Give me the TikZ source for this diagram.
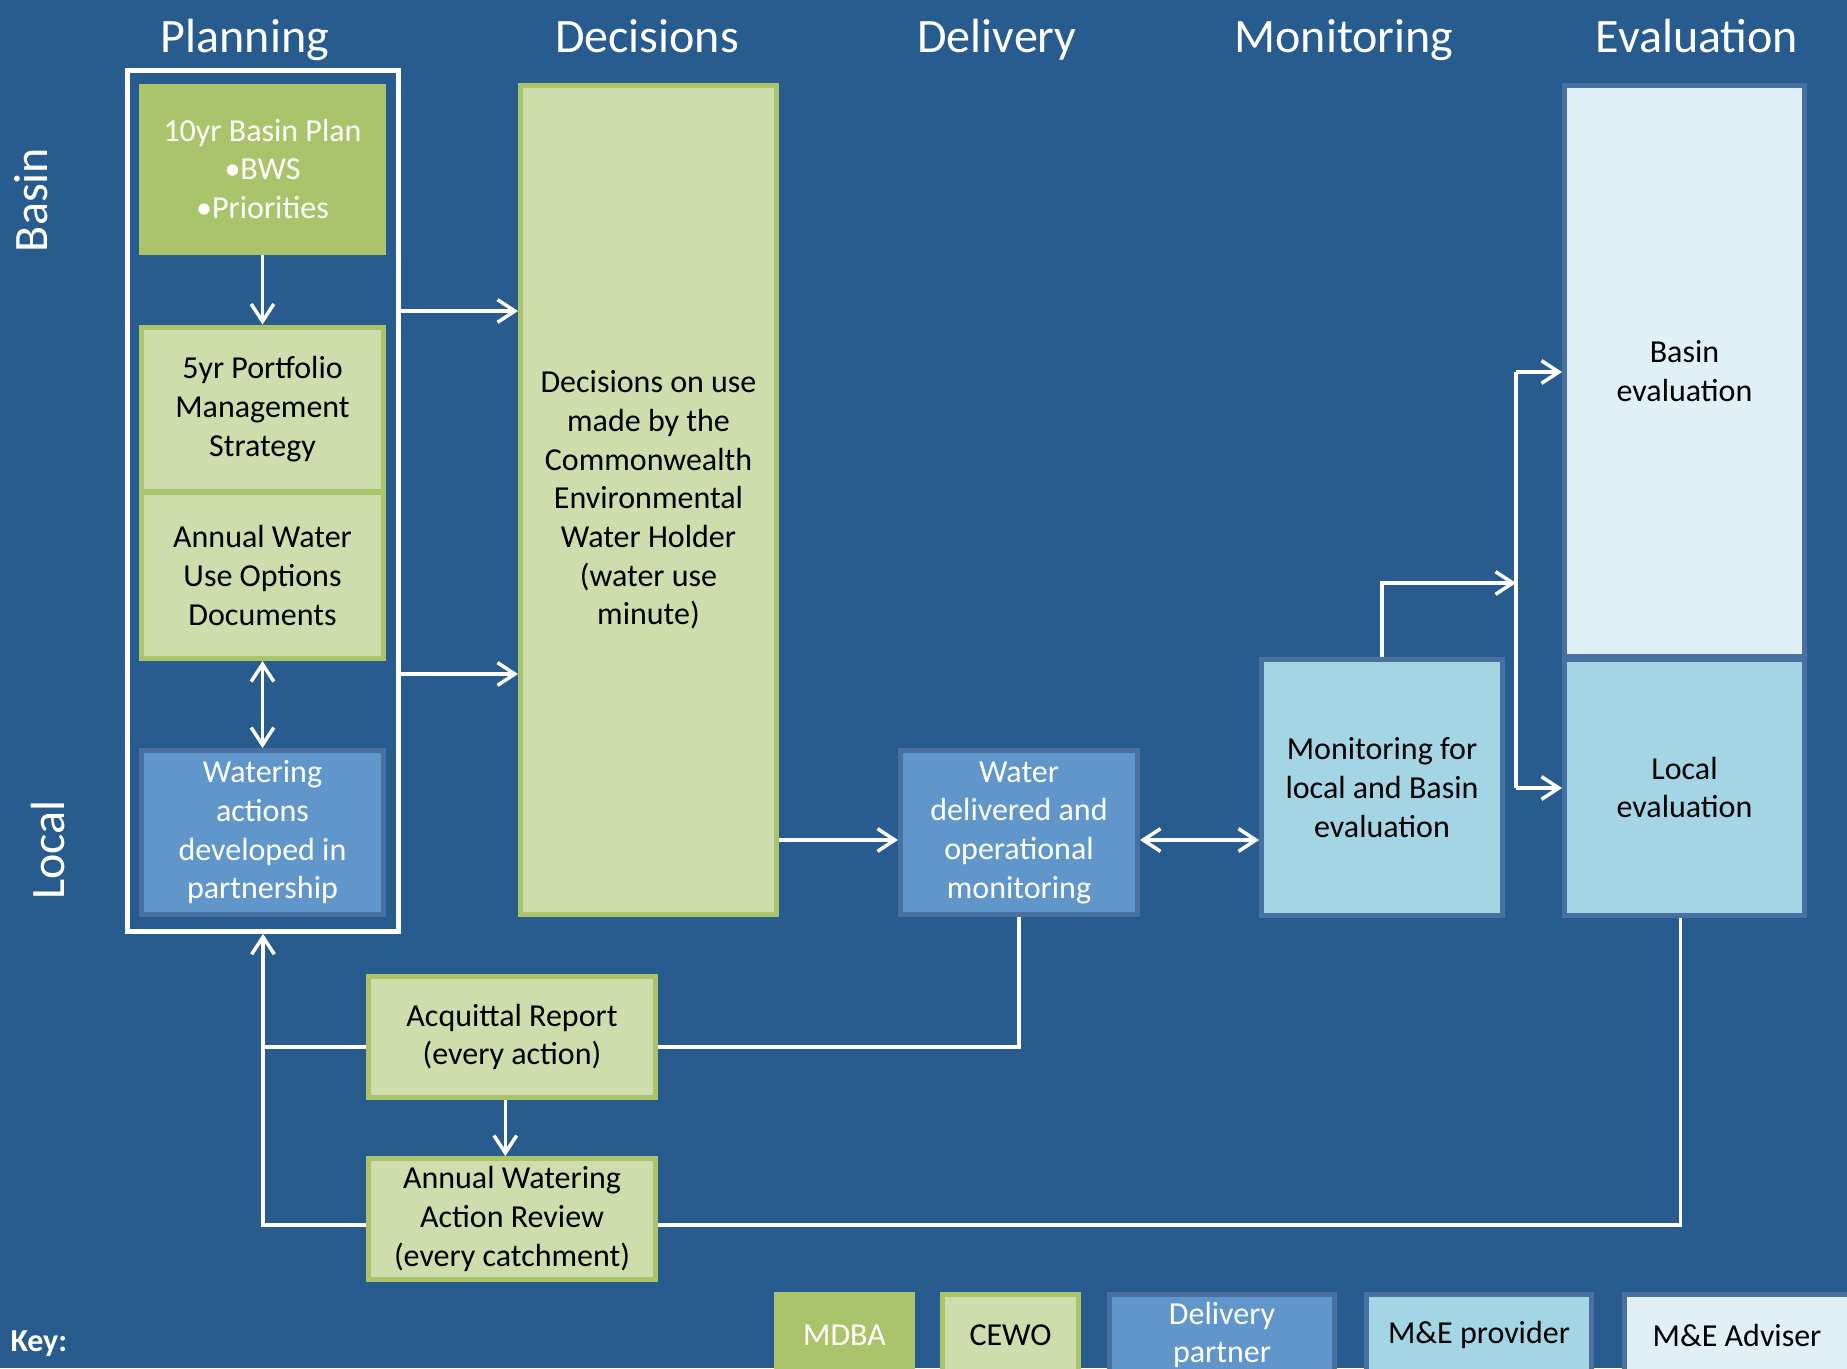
\documentclass[tikz,border=0pt]{standalone}
\usepackage{fontspec}
\setmainfont{Carlito}
\usetikzlibrary{arrows.meta}

\definecolor{bgblue}{RGB}{40,92,143}
\definecolor{mdbagreen}{RGB}{169,196,107}
\definecolor{cewogreen}{RGB}{206,221,171}
\definecolor{partnerblue}{RGB}{96,150,201}
\definecolor{providerblue}{RGB}{163,213,228}
\definecolor{adviserblue}{RGB}{225,239,246}
\definecolor{edgeblue}{RGB}{72,112,160}

\tikzset{every picture/.style={line width=0.75pt}}
\tikzset{
  box/.style={draw, line width=3.75pt, align=center, inner sep=0pt, font=\fontsize{24}{29}\selectfont},
  mdba/.style={box, draw=mdbagreen, fill=mdbagreen, text=white},
  cewo/.style={box, draw=mdbagreen, fill=cewogreen, text=black},
  partner/.style={box, draw=edgeblue, fill=partnerblue, text=white},
  provider/.style={box, draw=edgeblue, fill=providerblue, text=black},
  adviser/.style={box, draw=edgeblue, fill=adviserblue, text=black},
  head/.style={text=white, font=\fontsize{36}{43}\selectfont, anchor=base, inner sep=0pt},
  side/.style={text=white, font=\fontsize{36}{43}\selectfont, rotate=90, inner sep=0pt},
  conn/.style={draw=white, line width=2.6pt},
  arr/.style={conn, -{Straight Barb[length=13pt,width=17pt]}},
  darr/.style={conn, {Straight Barb[length=13pt,width=17pt]}-{Straight Barb[length=13pt,width=17pt]}},
}

\begin{document}
\begin{tikzpicture}[x=0.75pt,y=0.75pt,yscale=-1,xscale=1]
\useasboundingbox (0,0) rectangle (1847,1368);
\clip (0,0) rectangle (1847,1368);
\fill[bgblue] (0,0) rectangle (1847,1368);

% Column heads
\node[head] (hplan) at (245,52) {Planning};
\node[head] (hdec) at (647,52) {Decisions};
\node[head] (hdel) at (997,52) {Delivery};
\node[head] (hmon) at (1344,52) {Monitoring};
\node[head] (heval) at (1697,52) {Evaluation};

% Row labels
\node[side] (rbasin) at (31,200) {Basin};
\node[side] (rlocal) at (48,850) {Local};

% Planning frame
\node[draw=white, line width=3.4pt, minimum width=203.25pt, minimum height=645.75pt, inner sep=0pt] (planbox) at (263,501) {};

% Boxes
\node[mdba, minimum width=181.5pt, minimum height=124.5pt] (basinplan) at (262.5,169) {10yr Basin Plan\\\textbullet BWS\\\textbullet Priorities};
\node[cewo, minimum width=181.5pt, minimum height=123pt] (portfolio) at (262.5,409) {5yr Portfolio\\Management\\Strategy};
\node[cewo, minimum width=181.5pt, minimum height=124.5pt] (options) at (262.5,575.5) {Annual Water\\Use Options\\Documents};
\node[partner, minimum width=181.5pt, minimum height=123pt] (watering) at (262.5,832.5) {Watering\\actions\\developed in\\partnership};
\node[cewo, minimum width=192pt, minimum height=621.75pt] (decisions) at (648.5,500) {Decisions on use\\made by the\\Commonwealth\\Environmental\\Water Holder\\(water use\\minute)};
\node[partner, minimum width=177.75pt, minimum height=123pt] (delivered) at (1019,832.5) {Water\\delivered and\\operational\\monitoring};
\node[provider, minimum width=180.75pt, minimum height=192pt] (monitoring) at (1382,787.5) {Monitoring for\\local and Basin\\evaluation};
\node[adviser, minimum width=180pt, minimum height=428.25pt] (basineval) at (1684.5,371) {Basin\\evaluation};
\node[provider, minimum width=180pt, minimum height=192pt] (localeval) at (1684.5,787.5) {Local\\evaluation};
\node[cewo, minimum width=215.25pt, minimum height=90.75pt] (acquittal) at (512,1037) {Acquittal Report\\(every action)};
\node[cewo, minimum width=215.25pt, minimum height=90.75pt] (review) at (512,1219) {Annual Watering\\Action Review\\(every catchment)};

% Connectors
\draw[arr] (basinplan.south) -- (portfolio.north);
\draw[darr] (options.south) -- (watering.north);
\draw[arr] (planbox.east |- 0,311) -- (decisions.west |- 0,311);
\draw[arr] (planbox.east |- 0,674) -- (decisions.west |- 0,674);
\draw[arr] (decisions.east |- 0,840) -- (delivered.west |- 0,840);
\draw[darr] (delivered.east |- 0,840) -- (monitoring.west |- 0,840);
\coordinate (evaltop) at (1516,372);
\coordinate (evalbot) at (1516,788);
\draw[conn] (evaltop) -- (evalbot);
\draw[arr] (evaltop) -- (basineval.west |- evaltop);
\draw[arr] (evalbot) -- (localeval.west |- evalbot);
\draw[arr] (monitoring.north) |- (evaltop |- 0,583);
\draw[conn] (delivered.south) |- (acquittal.east |- 0,1047);
\draw[arr] (acquittal.west |- 0,1047) -| (planbox.south);
\draw[conn] (review.west |- 0,1225) -| (planbox.south |- 0,1047);
\draw[conn] (review.east |- 0,1225) -| ([xshift=-3pt]localeval.south);
\draw[arr] ([xshift=-5pt]acquittal.south) -- ([xshift=-5pt]review.north);

% Key
\node[anchor=west, text=white, font=\bfseries\fontsize{24}{29}\selectfont, inner sep=0pt] (keylabel) at (10,1344) {Key:};
\node[mdba, minimum width=102pt, minimum height=60.75pt] (keymdba) at (844.5,1335) {MDBA};
\node[cewo, minimum width=102pt, minimum height=60.75pt] (keycewo) at (1010.5,1335) {CEWO};
\node[partner, minimum width=168.75pt, minimum height=60.75pt] (keypartner) at (1222,1335) {Delivery\\partner};
\node[provider, minimum width=168.75pt, minimum height=60.75pt] (keyprovider) at (1479,1335) {M\&E provider};
\node[adviser, minimum width=168.75pt, minimum height=60.75pt] (keyadviser) at (1737,1335) {M\&E Adviser};

\end{tikzpicture}
\end{document}
